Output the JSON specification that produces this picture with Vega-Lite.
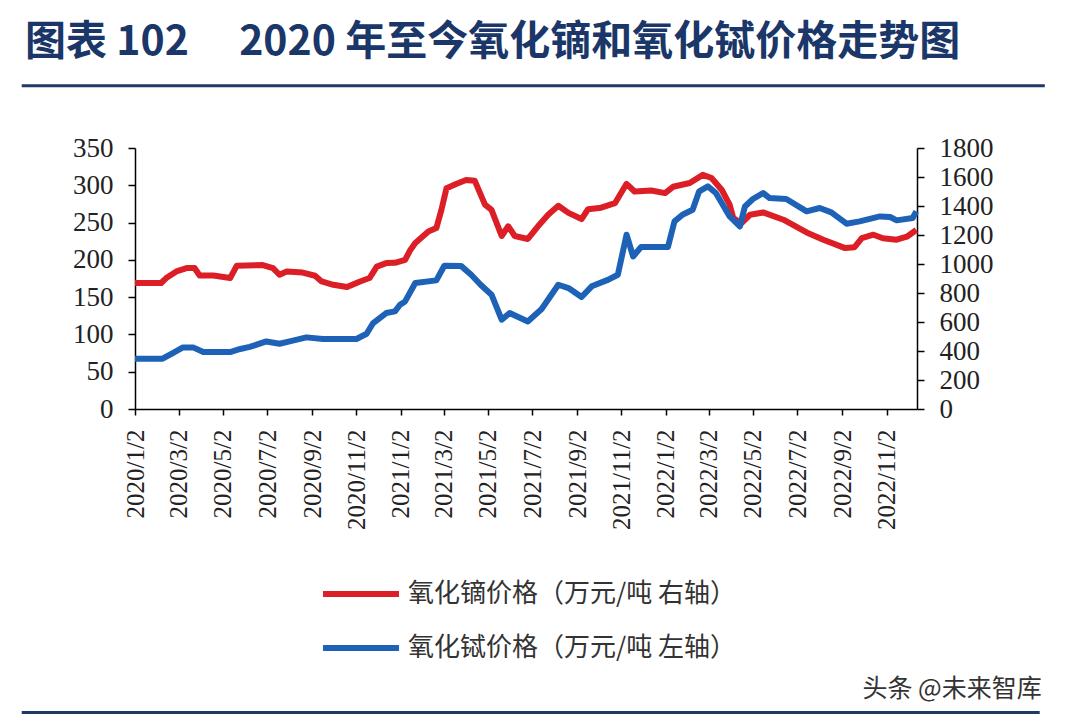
{
  "$schema": "https://vega.github.io/schema/vega-lite/v6.json",
  "width": 782,
  "height": 261,
  "autosize": {"type": "none"},
  "padding": {"left": 135, "top": 148, "right": 163, "bottom": 316},
  "background": "white",
  "title": {
    "text": "图表 102\u3000 2020 年至今氧化镝和氧化铽价格走势图",
    "anchor": "start",
    "frame": "group",
    "dx": -110,
    "offset": 20,
    "font": "Noto Sans CJK SC",
    "fontSize": 41,
    "fontWeight": "bold",
    "color": "#1b3668"
  },
  "config": {
    "view": {"stroke": null},
    "axis": {
      "grid": false,
      "domainColor": "#000",
      "domainWidth": 1.5,
      "tickColor": "#000",
      "tickWidth": 1.5,
      "labelFont": "Liberation Serif",
      "labelColor": "#222",
      "labelOverlap": false,
      "labelFlush": false,
      "labelBound": false
    }
  },
  "datasets": {
    "dy": [
      {"date": "2020/01/02", "price": 169},
      {"date": "2020/02/07", "price": 169},
      {"date": "2020/02/14", "price": 175.6},
      {"date": "2020/02/28", "price": 184.5},
      {"date": "2020/03/13", "price": 189},
      {"date": "2020/03/24", "price": 189},
      {"date": "2020/03/31", "price": 179},
      {"date": "2020/04/19", "price": 179},
      {"date": "2020/05/12", "price": 175.6},
      {"date": "2020/05/21", "price": 192},
      {"date": "2020/06/26", "price": 193},
      {"date": "2020/07/10", "price": 189},
      {"date": "2020/07/19", "price": 180},
      {"date": "2020/07/29", "price": 184.5},
      {"date": "2020/08/20", "price": 183},
      {"date": "2020/09/06", "price": 178.7},
      {"date": "2020/09/15", "price": 171},
      {"date": "2020/10/01", "price": 166.6},
      {"date": "2020/10/20", "price": 163.5},
      {"date": "2020/11/07", "price": 171},
      {"date": "2020/11/20", "price": 175.6},
      {"date": "2020/11/30", "price": 191},
      {"date": "2020/12/13", "price": 195.7},
      {"date": "2020/12/25", "price": 196},
      {"date": "2021/01/08", "price": 200},
      {"date": "2021/01/15", "price": 213},
      {"date": "2021/01/22", "price": 222.5},
      {"date": "2021/02/09", "price": 238},
      {"date": "2021/02/20", "price": 242.6},
      {"date": "2021/02/27", "price": 267},
      {"date": "2021/03/06", "price": 296},
      {"date": "2021/03/20", "price": 302},
      {"date": "2021/04/02", "price": 307},
      {"date": "2021/04/14", "price": 306},
      {"date": "2021/04/28", "price": 274},
      {"date": "2021/05/07", "price": 267},
      {"date": "2021/05/21", "price": 232},
      {"date": "2021/05/30", "price": 245},
      {"date": "2021/06/08", "price": 232},
      {"date": "2021/06/26", "price": 228},
      {"date": "2021/07/10", "price": 245},
      {"date": "2021/07/24", "price": 260.5},
      {"date": "2021/08/07", "price": 272.5},
      {"date": "2021/08/21", "price": 263},
      {"date": "2021/09/08", "price": 254.7},
      {"date": "2021/09/17", "price": 268},
      {"date": "2021/10/05", "price": 270},
      {"date": "2021/10/24", "price": 276},
      {"date": "2021/11/09", "price": 302},
      {"date": "2021/11/20", "price": 291.7},
      {"date": "2021/12/13", "price": 293},
      {"date": "2022/01/01", "price": 289.5},
      {"date": "2022/01/12", "price": 298},
      {"date": "2022/02/04", "price": 303},
      {"date": "2022/02/22", "price": 314},
      {"date": "2022/03/06", "price": 309.7},
      {"date": "2022/03/20", "price": 294},
      {"date": "2022/03/31", "price": 274},
      {"date": "2022/04/05", "price": 256},
      {"date": "2022/04/16", "price": 249},
      {"date": "2022/04/28", "price": 260.5},
      {"date": "2022/05/16", "price": 263.6},
      {"date": "2022/06/13", "price": 253.8},
      {"date": "2022/07/15", "price": 236.7},
      {"date": "2022/08/07", "price": 227},
      {"date": "2022/09/06", "price": 215.8},
      {"date": "2022/09/19", "price": 217},
      {"date": "2022/09/29", "price": 229},
      {"date": "2022/10/15", "price": 233.7},
      {"date": "2022/10/28", "price": 229},
      {"date": "2022/11/16", "price": 227},
      {"date": "2022/11/30", "price": 231},
      {"date": "2022/12/13", "price": 240}
    ],
    "tb": [
      {"date": "2020/01/02", "price": 347},
      {"date": "2020/02/09", "price": 347},
      {"date": "2020/02/23", "price": 386},
      {"date": "2020/03/08", "price": 425},
      {"date": "2020/03/22", "price": 425},
      {"date": "2020/04/05", "price": 393},
      {"date": "2020/05/12", "price": 393},
      {"date": "2020/05/26", "price": 414},
      {"date": "2020/06/08", "price": 428},
      {"date": "2020/07/01", "price": 466},
      {"date": "2020/07/19", "price": 450},
      {"date": "2020/08/02", "price": 466},
      {"date": "2020/08/25", "price": 494},
      {"date": "2020/09/17", "price": 483},
      {"date": "2020/11/02", "price": 483},
      {"date": "2020/11/16", "price": 519},
      {"date": "2020/11/25", "price": 593},
      {"date": "2020/12/13", "price": 662},
      {"date": "2020/12/25", "price": 673},
      {"date": "2021/01/01", "price": 719},
      {"date": "2021/01/08", "price": 742},
      {"date": "2021/01/22", "price": 869},
      {"date": "2021/02/20", "price": 887},
      {"date": "2021/03/03", "price": 988},
      {"date": "2021/03/26", "price": 987},
      {"date": "2021/04/09", "price": 926},
      {"date": "2021/04/22", "price": 857},
      {"date": "2021/05/07", "price": 788},
      {"date": "2021/05/21", "price": 616},
      {"date": "2021/06/01", "price": 662},
      {"date": "2021/06/26", "price": 604},
      {"date": "2021/07/15", "price": 690},
      {"date": "2021/08/07", "price": 857},
      {"date": "2021/08/21", "price": 834},
      {"date": "2021/09/08", "price": 772},
      {"date": "2021/09/22", "price": 846},
      {"date": "2021/10/15", "price": 892},
      {"date": "2021/10/28", "price": 926},
      {"date": "2021/11/09", "price": 1202},
      {"date": "2021/11/18", "price": 1052},
      {"date": "2021/11/29", "price": 1117},
      {"date": "2022/01/05", "price": 1117},
      {"date": "2022/01/14", "price": 1294},
      {"date": "2022/01/25", "price": 1340},
      {"date": "2022/02/08", "price": 1374},
      {"date": "2022/02/17", "price": 1501},
      {"date": "2022/03/01", "price": 1535},
      {"date": "2022/03/12", "price": 1490},
      {"date": "2022/03/31", "price": 1328},
      {"date": "2022/04/14", "price": 1259},
      {"date": "2022/04/21", "price": 1397},
      {"date": "2022/05/02", "price": 1448},
      {"date": "2022/05/16", "price": 1490},
      {"date": "2022/05/25", "price": 1455},
      {"date": "2022/06/17", "price": 1448},
      {"date": "2022/07/15", "price": 1363},
      {"date": "2022/08/02", "price": 1386},
      {"date": "2022/08/18", "price": 1356},
      {"date": "2022/09/08", "price": 1278},
      {"date": "2022/09/26", "price": 1294},
      {"date": "2022/10/24", "price": 1328},
      {"date": "2022/11/07", "price": 1324},
      {"date": "2022/11/16", "price": 1301},
      {"date": "2022/12/08", "price": 1317},
      {"date": "2022/12/13", "price": 1363}
    ]
  },
  "layer": [
    {
      "layer": [
        {
          "data": {"name": "dy"},
          "mark": {"type": "line", "strokeWidth": 6, "strokeJoin": "round"},
          "encoding": {
            "x": {
              "field": "date",
              "type": "temporal",
              "scale": {"domain": [{"year": 2020, "month": 1, "date": 2}, {"year": 2022, "month": 12, "date": 14}]},
              "title": "头条 @未来智库",
              "axis": {
                "values": [
                  {"year": 2020, "month": 1, "date": 2}, {"year": 2020, "month": 3, "date": 2},
                  {"year": 2020, "month": 5, "date": 2}, {"year": 2020, "month": 7, "date": 2},
                  {"year": 2020, "month": 9, "date": 2}, {"year": 2020, "month": 11, "date": 2},
                  {"year": 2021, "month": 1, "date": 2}, {"year": 2021, "month": 3, "date": 2},
                  {"year": 2021, "month": 5, "date": 2}, {"year": 2021, "month": 7, "date": 2},
                  {"year": 2021, "month": 9, "date": 2}, {"year": 2021, "month": 11, "date": 2},
                  {"year": 2022, "month": 1, "date": 2}, {"year": 2022, "month": 3, "date": 2},
                  {"year": 2022, "month": 5, "date": 2}, {"year": 2022, "month": 7, "date": 2},
                  {"year": 2022, "month": 9, "date": 2}, {"year": 2022, "month": 11, "date": 2}
                ],
                "format": "%Y/%-m/%-d",
                "labelAngle": 270,
                "labelAlign": "right",
                "labelBaseline": "middle",
                "labelFontSize": 25,
                "tickSize": 6,
                "labelPadding": 14,
                "titleX": 727,
                "titleY": 279,
                "titleAlign": "left",
                "titleBaseline": "middle",
                "titleFont": "Noto Sans CJK SC",
                "titleFontSize": 25,
                "titleFontWeight": "normal",
                "titleColor": "#333"
              }
            },
            "y": {
              "field": "price",
              "type": "quantitative",
              "scale": {"domain": [0, 350], "nice": false},
              "title": null,
              "axis": {
                "values": [0, 50, 100, 150, 200, 250, 300, 350],
                "format": "d",
                "labelFontSize": 27,
                "tickSize": 7,
                "labelPadding": 15
              }
            },
            "color": {
              "datum": "氧化镝价格（万元/吨 右轴）",
              "scale": {"range": ["#dc1f26"]},
              "legend": {
                "orient": "none",
                "legendX": 185,
                "legendY": 405,
                "title": null,
                "padding": 0,
                "symbolType": "stroke",
                "symbolSize": 5776,
                "symbolStrokeWidth": 6,
                "labelFont": "Noto Sans CJK SC",
                "labelFontSize": 26,
                "labelColor": "#333",
                "labelOffset": 6,
                "labelLimit": 600
              }
            }
          }
        },
        {
          "data": {"values": [{}]},
          "mark": {"type": "rule", "strokeWidth": 3, "color": "#1f3864"},
          "encoding": {
            "x": {"datum": {"year": 2019, "month": 7, "date": 30}, "type": "temporal", "title": "头条 @未来智库"},
            "x2": {"datum": {"year": 2023, "month": 6, "date": 8}},
            "y": {
              "datum": 433.4,
              "type": "quantitative",
              "scale": {"domain": [0, 350], "nice": false},
              "title": null,
              "axis": {
                "values": [0, 50, 100, 150, 200, 250, 300, 350],
                "format": "d",
                "labelFontSize": 27,
                "tickSize": 7,
                "labelPadding": 15
              }
            }
          }
        },
        {
          "data": {"values": [{}]},
          "mark": {"type": "rule", "strokeWidth": 3, "color": "#1f3864"},
          "encoding": {
            "x": {"datum": {"year": 2019, "month": 7, "date": 30}, "type": "temporal", "title": "头条 @未来智库"},
            "x2": {"datum": {"year": 2023, "month": 6, "date": 1}},
            "y": {
              "datum": -407,
              "type": "quantitative",
              "scale": {"domain": [0, 350], "nice": false},
              "title": null,
              "axis": {
                "values": [0, 50, 100, 150, 200, 250, 300, 350],
                "format": "d",
                "labelFontSize": 27,
                "tickSize": 7,
                "labelPadding": 15
              }
            }
          }
        }
      ]
    },
    {
      "data": {"name": "tb"},
      "mark": {"type": "line", "strokeWidth": 6, "strokeJoin": "round"},
      "encoding": {
        "x": {"field": "date", "type": "temporal", "title": "头条 @未来智库"},
        "y": {
          "field": "price",
          "type": "quantitative",
          "scale": {"domain": [0, 1800], "nice": false},
          "title": null,
          "axis": {
            "orient": "right",
            "values": [0, 200, 400, 600, 800, 1000, 1200, 1400, 1600, 1800],
            "format": "d",
            "labelFontSize": 27,
            "tickSize": 7,
            "labelPadding": 15
          }
        },
        "color": {
          "datum": "氧化铽价格（万元/吨 左轴）",
          "scale": {"range": ["#1e62b8"]},
          "legend": {
            "orient": "none",
            "legendX": 185,
            "legendY": 459,
            "title": null,
            "padding": 0,
            "symbolType": "stroke",
            "symbolSize": 5776,
            "symbolStrokeWidth": 6,
            "labelFont": "Noto Sans CJK SC",
            "labelFontSize": 26,
            "labelColor": "#333",
            "labelOffset": 6,
            "labelLimit": 600
          }
        }
      }
    }
  ],
  "resolve": {"scale": {"y": "independent", "color": "independent"}}
}
